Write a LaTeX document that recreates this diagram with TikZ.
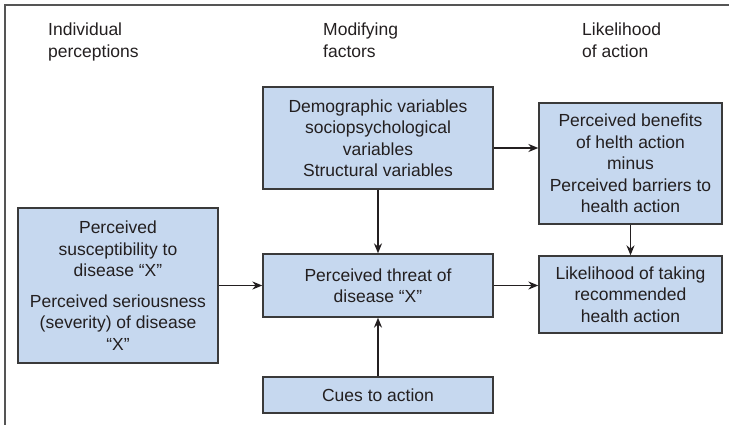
\documentclass[tikz,border=0pt]{standalone}
\usepackage{fontspec}
\setmainfont{Liberation Sans}
\usetikzlibrary{arrows.meta}
\definecolor{boxblue}{HTML}{C6D8EF}
\definecolor{boxline}{HTML}{3A3A3A}
\definecolor{inktext}{HTML}{231F20}
\definecolor{frameline}{HTML}{555555}

\begin{document}
\begin{tikzpicture}[x=1pt, y=-1pt,
	every node/.style={font=\fontsize{17.5}{21.5}\selectfont, text=inktext},
	box/.style={draw=boxline, fill=boxblue, line width=1.3pt, align=center, inner sep=2pt},
	head/.style={anchor=north west, align=left, inner sep=0pt},
	arr/.style={-{Stealth[length=10pt,width=8pt]}, line width=1.4pt, draw=inktext}]
\useasboundingbox (0,0) rectangle (729,425);
% frame (top and left only)
\draw[frameline, line width=1.5pt] (5,425) -- (5,5) -- (729,5);

% column headings
\node[head] (hindiv) at (48,23) {Individual\\perceptions};
\node[head] (hmod) at (323,23) {Modifying\\factors};
\node[head] (hlike) at (582,23) {Likelihood\\of action};

% boxes
\node[box, minimum width=200pt, minimum height=155pt] (percep) at (118,285.5)
	{Perceived\\susceptibility to\\disease ``X''\\[9pt]Perceived seriousness\\(severity) of disease\\``X''};
\node[box, minimum width=230pt, minimum height=102pt] (demog) at (378,138)
	{Demographic variables\\sociopsychological\\variables\\Structural variables};
\node[box, minimum width=230pt, minimum height=63pt] (threat) at (378,285.5)
	{Perceived threat of\\disease ``X''};
\node[box, minimum width=230pt, minimum height=36pt] (cues) at (378,395)
	{Cues to action};
\node[box, minimum width=183pt, minimum height=121pt] (benefit) at (630.5,163.5)
	{Perceived benefits\\of helth action\\minus\\Perceived barriers to\\health action};
\node[box, minimum width=183pt, minimum height=77pt] (likely) at (630.5,294.5)
	{Likelihood of taking\\recommended\\health action};

% connectors
\draw[arr] (percep) -- (threat);
\draw[arr] (demog) -- (threat);
\draw[arr] (cues) -- (threat);
\draw[arr] ([yshift=-10pt]demog.east) coordinate (d1) -- (d1 -| benefit.west);
\draw[arr] (threat.east) -- (threat.east -| likely.west);
\draw[arr] (benefit) -- (likely);
\end{tikzpicture}
\end{document}
